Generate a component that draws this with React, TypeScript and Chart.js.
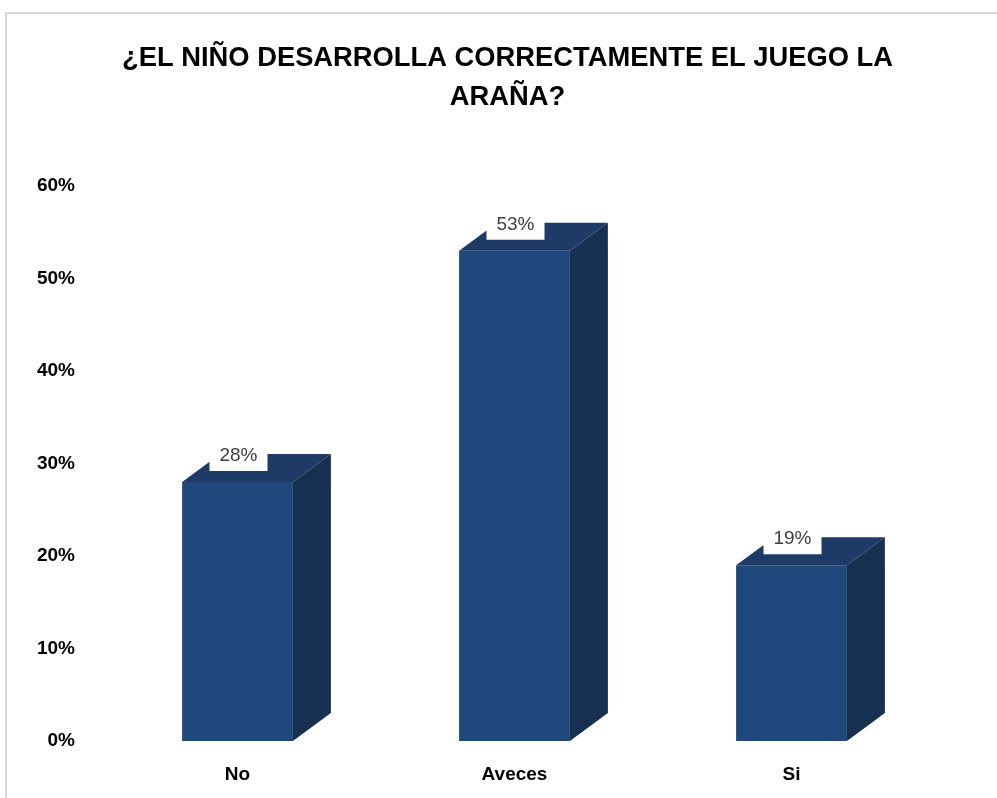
import React, { useEffect, useRef } from "react";
import { Chart, registerables } from "chart.js";

Chart.register(...registerables);

const titleLines = ["¿EL NIÑO DESARROLLA CORRECTAMENTE EL JUEGO LA", "ARAÑA?"];
const categories = ["No", "Aveces", "Si"];
const values = [28, 53, 19];
const yMax = 60;
const yStep = 10;

const FRONT = "#21487c";
const TOP = "#1d3b66";
const SIDE = "#172f50";

const framePlugin = {
  id: "frame",
  beforeDraw(chart: any) {
    const ctx = chart.ctx;
    ctx.save();
    ctx.fillStyle = "#ffffff";
    ctx.fillRect(0, 0, chart.width, chart.height);
    ctx.strokeStyle = "#d9d9d9";
    ctx.lineWidth = 2;
    ctx.strokeRect(6, 13, chart.width + 20, chart.height + 20);
    ctx.restore();
  },
};

const titlePlugin = {
  id: "customTitle",
  afterDraw(chart: any) {
    const ctx = chart.ctx;
    ctx.save();
    ctx.fillStyle = "#000000";
    ctx.font = 'bold 27px "Liberation Sans", Arial, sans-serif';
    ctx.textBaseline = "middle";
    ctx.textAlign = "center";
    const cx = 507.5;
    const w1 = ctx.measureText(titleLines[0]).width;
    const sx = 771 / w1;
    const ys = [59, 98];
    titleLines.forEach((line, i) => {
      ctx.save();
      ctx.translate(cx, ys[i]);
      ctx.scale(sx, 1);
      ctx.fillText(line, 0, 0);
      ctx.restore();
    });
    ctx.restore();
  },
};

const bar3dPlugin = {
  id: "bar3d",
  afterDatasetsDraw(chart: any) {
    const ctx = chart.ctx;
    const meta = chart.getDatasetMeta(0);
    const dx = 38;
    const dy = 28;
    ctx.save();
    meta.data.forEach((bar: any) => {
      const { x, y, width, base } = bar.getProps(["x", "y", "width", "base"], true);
      const l = x - width / 2;
      const r = x + width / 2;
      ctx.fillStyle = TOP;
      ctx.beginPath();
      ctx.moveTo(l, y);
      ctx.lineTo(r, y);
      ctx.lineTo(r + dx, y - dy);
      ctx.lineTo(l + dx, y - dy);
      ctx.closePath();
      ctx.fill();
      ctx.fillStyle = SIDE;
      ctx.beginPath();
      ctx.moveTo(r, y);
      ctx.lineTo(r + dx, y - dy);
      ctx.lineTo(r + dx, base - dy);
      ctx.lineTo(r, base);
      ctx.closePath();
      ctx.fill();
    });
    ctx.font = '19px "Liberation Sans", Arial, sans-serif';
    ctx.textAlign = "center";
    ctx.textBaseline = "middle";
    meta.data.forEach((bar: any, i: number) => {
      const { x, y } = bar.getProps(["x", "y"], true);
      const txt = values[i] + "%";
      const bw = 58;
      const bh = 22;
      ctx.fillStyle = "#ffffff";
      ctx.fillRect(x + 1 - bw / 2, y - 22 - bh / 2, bw, bh);
      ctx.fillStyle = "#404040";
      ctx.fillText(txt, x + 1, y - 26);
    });
    ctx.restore();
  },
};

export default function App() {
  const ref = useRef<HTMLCanvasElement>(null);
  useEffect(() => {
    if (!ref.current) return;
    const chart = new Chart(ref.current, {
      type: "bar",
      data: {
        labels: categories,
        datasets: [
          {
            data: values,
            backgroundColor: FRONT,
            borderWidth: 0,
            barPercentage: 0.4,
            categoryPercentage: 1,
          },
        ],
      },
      options: {
        responsive: false,
        animation: false,
        layout: { padding: { left: 0, top: 186, right: 67, bottom: 0 } },
        plugins: {
          legend: { display: false },
          title: { display: false },
          tooltip: { enabled: false },
        },
        scales: {
          x: {
            grid: { display: false, drawTicks: false },
            border: { display: false },
            ticks: {
              color: "#000000",
              padding: 22,
              font: { family: '"Liberation Sans", Arial, sans-serif', size: 19, weight: "bold" },
            },
            afterFit: (s: any) => {
              s.height = 57;
            },
          },
          y: {
            min: 0,
            max: yMax,
            grid: { display: false, drawTicks: false },
            border: { display: false },
            ticks: {
              stepSize: yStep,
              color: "#000000",
              padding: 24,
              font: { family: '"Liberation Sans", Arial, sans-serif', size: 19, weight: "bold" },
              callback: (v: any) => v + "%",
            },
            afterFit: (s: any) => {
              s.width = 99;
            },
          },
        },
      },
      plugins: [framePlugin, bar3dPlugin, titlePlugin],
    } as any);
    return () => chart.destroy();
  }, []);
  return (
    <div style={{ position: "absolute", left: 0, top: 0, width: 997, height: 798 }}>
      <canvas ref={ref} width={997} height={798} style={{ display: "block" }} />
    </div>
  );
}
